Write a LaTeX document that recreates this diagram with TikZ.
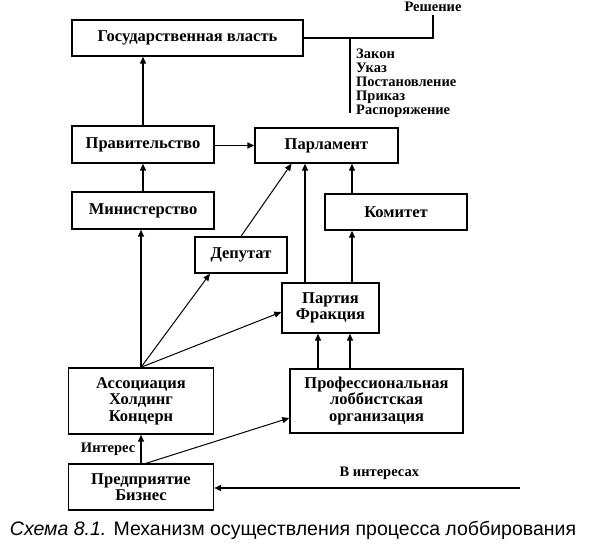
\documentclass[tikz,border=0pt]{standalone}
\usepackage{fontspec}
\setmainfont{Liberation Serif}
\newfontfamily\capfont{Liberation Sans}
\usetikzlibrary{arrows.meta,positioning,calc}

\begin{document}
\begin{tikzpicture}
	[ x=1pt, y=-1pt,
	  box/.style={ draw, line width=1.4pt, align=center, inner sep=0pt,
	  font=\bfseries\fontsize{16.5}{16.5}\selectfont },
	  lnk/.style={ line width=1.4pt, -{Triangle[length=7pt,width=6pt]} },
	  note/.style={ inner sep=0pt, font=\bfseries\fontsize{14.5}{14}\selectfont }
	]
	\useasboundingbox (0,0) rectangle (597,552);
	\node[box, minimum width=231pt, minimum height=36pt] (gos)   at (187.5,38)  {Государственная власть};
	\node[box, minimum width=142pt, minimum height=37pt] (prav)  at (143,144.5) {Правительство};
	\node[box, minimum width=143pt, minimum height=35pt] (parl)  at (326.5,145.5) {Парламент};
	\node[box, minimum width=142pt, minimum height=37pt] (min)   at (143,210.5) {Министерство};
	\node[box, minimum width=142pt, minimum height=36pt] (kom)   at (396,212)   {Комитет};
	\node[box, minimum width=92pt,  minimum height=36pt] (dep)   at (241,255)   {Депутат};
	\node[box, minimum width=97pt,  minimum height=50pt] (part)  at (330.5,308) {Партия\\Фракция};
	\node[box, minimum width=145pt, minimum height=66pt] (assoc) at (141,401) {Ассоциация\\Холдинг\\Концерн};
	\node[box, minimum width=173pt, minimum height=64pt] (prof)  at (376.5,401) {Профессиональная\\лоббистская\\организация};
	\node[box, minimum width=145pt, minimum height=46pt] (pred)  at (141,487) {Предприятие\\Бизнес};

	\coordinate (resh) at (433,15);
	\coordinate (split) at (350,38);
	\coordinate (vend) at (350,113);
	\coordinate (biz) at (520,488);
	\coordinate (kx) at (352,0);

	% decisions of the state
	\draw[line width=1.2pt] (gos.east |- split) -- (resh |- split) -- (resh);
	\node[note, above=3pt of resh] (reshtxt) {Решение};
	\draw[line width=1.2pt] (split) -- (vend);
	\node[note, align=left, anchor=west] (acts) at (356,83)
		{Закон\\Указ\\Постановление\\Приказ\\Распоряжение};

	\draw[lnk] (prav.north) -- (prav.north |- gos.south);
	\draw[lnk] (min.north) -- (min.north |- prav.south);
	\draw[lnk] (prav.east |- parl.west) -- (parl.west);
	\draw[lnk] (assoc.north) -- (assoc.north |- min.south);
	\draw[lnk] (pred.north) -- (assoc.south) node[note, midway, left=5pt] (inter) {Интерес};

	\draw[lnk, line width=1pt] (dep.north) -- ([xshift=-35pt]parl.south);
	\draw[lnk, line width=1pt] (assoc.north) -- ([xshift=-31pt]dep.south);
	\draw[lnk, line width=1pt] (assoc.north) -- ([yshift=-4pt]part.west);
	\draw[lnk, line width=1pt] ([xshift=5pt]pred.north) -- ([yshift=-17pt]prof.west);

	\draw[lnk] ([xshift=-25.5pt]part.north) -- ([xshift=-25.5pt]part.north |- parl.south);
	\draw[lnk] (kx |- part.north) -- (kx |- kom.south);
	\draw[lnk] (kx |- kom.north) -- (kx |- parl.south);
	\foreach \a in {-12.5,19.5}{
		\draw[lnk] ([xshift=\a pt]part.south |- prof.north) -- ([xshift=\a pt]part.south);
	}

	\draw[lnk] (biz) -- (biz -| pred.east) node[note, pos=0.46, above=8pt] (intxt) {В интересах};

	\node[font=\capfont\fontsize{19.5}{20}\selectfont] (cap) at (293,530)
		{\textit{Схема 8.1.} Механизм осуществления процесса лоббирования};
\end{tikzpicture}
\end{document}
